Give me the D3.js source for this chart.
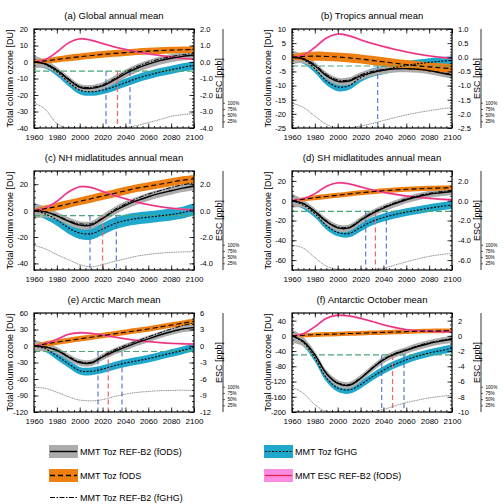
<!DOCTYPE html>
<html>
<head>
<meta charset="utf-8">
<script src="https://cdn.jsdelivr.net/npm/d3@7"></script>
<style>
  body { margin: 0; background: #fff; }
  svg { display: block; font-family: "Liberation Sans", Arial, Helvetica, sans-serif; }
</style>
</head>
<body>
<svg id="chart" width="504" height="504"></svg>
<script>
// ---- data ----
const years = [1960, 1970, 1980, 1990, 2000, 2010, 2020, 2030, 2040, 2050, 2060, 2070, 2080, 2090, 2100]

// (a) Global annual mean
const aRef = [0, -1.2, -5, -10.5, -15.3, -16, -14.5, -11, -7, -3.8, -1.3, 0.8, 2.3, 3.4, 4.2]
const aRefSd = [4, 2.5, 2, 2, 2, 2, 2.2, 2.5, 2.5, 2.5, 2.5, 2.5, 2.5, 2.5, 2.5]
const aRefGhg = [0, -1, -4.6, -10, -14.7, -15.4, -13.8, -10.2, -6, -2.8, -0.2, 1.8, 3.3, 4.4, 5.2]
const aFods = [0, 0.7, 1.5, 2.4, 3.2, 3.9, 4.6, 5.2, 5.7, 6.2, 6.6, 6.9, 7.2, 7.4, 7.6]
const aFodsSd = [1, 1.5, 1.8, 2, 2, 2, 2, 2, 2, 2, 2, 2, 2, 2, 2]
const aFghg = [0, -1.5, -6, -12, -17, -18, -17, -15, -12.5, -10, -8, -6.2, -4.7, -3.3, -2]
const aFghgSd = [2.5, 2.5, 2.5, 2.5, 2.5, 2.5, 2.5, 2.5, 2.5, 2.5, 2.5, 2.5, 2.5, 2.5, 2.5]
const aEsc = [0, 0.15, 0.6, 1.15, 1.4, 1.32, 1.12, 0.92, 0.76, 0.62, 0.5, 0.4, 0.3, 0.22, 0.16]
const aPct = [100, 75, 18, 1, 0, 0, 0, 1, 3, 10, 22, 34, 47, 54, 58]
const aLevel1980 = -5.5
const aReturnRange = [2023, 2044]
const aReturnMean = [2033]

// (b) Tropics annual mean
const bRef = [0, -0.6, -3, -6.5, -8.5, -8.4, -6.6, -5.4, -4.6, -4.1, -4, -4.2, -4.7, -5.5, -6.3]
const bRefSd = [2.5, 1.5, 1.3, 1.3, 1.3, 1.3, 1.3, 1.3, 1.3, 1.3, 1.3, 1.3, 1.3, 1.3, 1.3]
const bRefGhg = [0, -0.4, -2.6, -6, -8, -8, -6.2, -5, -4.3, -4, -4, -4.3, -4.8, -5.4, -6]
const bFods = [0, 0.3, 0.4, 0.3, 0.1, -0.2, -0.6, -1.1, -1.6, -2.1, -2.6, -3, -3.4, -3.7, -4]
const bFodsSd = [1, 1.5, 1.6, 1.6, 1.6, 1.6, 1.6, 1.6, 1.6, 1.6, 1.6, 1.6, 1.6, 1.6, 1.6]
const bFghg = [0, -0.8, -4, -8.3, -10.5, -10, -7.2, -5.5, -4.5, -3.6, -2.9, -2.3, -1.8, -1.4, -1.1]
const bFghgSd = [1.5, 1.5, 1.5, 1.5, 1.5, 1.5, 1.5, 1.5, 1.5, 1.5, 1.5, 1.5, 1.5, 1.5, 1.5]
const bEsc = [0, 0.08, 0.35, 0.68, 0.82, 0.76, 0.62, 0.49, 0.38, 0.28, 0.19, 0.11, 0.05, 0, -0.04]
const bPct = [100, 83, 48, 15, 2, 1, 8, 18, 30, 42, 53, 62, 70, 77, 83]
const bLevel1980 = -3.1
const bReturnRange = [2035]
const bReturnMean = []

// (c) NH midlatitudes annual mean
const cRef = [0, -1, -4, -8, -11, -11, -6, -0.5, 4, 7.5, 10.5, 13, 15, 17, 18.5]
const cRefSd = [6, 4, 3, 3, 3, 3, 3, 3, 3, 3, 3, 3, 3, 3, 3]
const cRefGhg = [0, -0.8, -3.5, -7.5, -10, -10, -5.5, 0.5, 5, 9, 12.5, 15, 17.5, 19.5, 21]
const cFods = [0, 1.5, 3, 5, 7, 9, 11, 13, 15, 17, 18.5, 20, 21.5, 23, 24]
const cFodsSd = [1, 2.5, 3, 3, 3, 3, 3, 3, 3, 3, 3, 3, 3, 3, 3]
const cFghg = [0, -2.5, -7, -13, -17, -17.5, -14, -10, -7.5, -6, -5, -4, -3, -1.5, 1]
const cFghgSd = [3, 4, 4.5, 4.5, 4.5, 4.5, 4.5, 4.5, 4.5, 4.5, 4.5, 4.5, 4.5, 4.5, 4.5]
const cEsc = [0, 0.2, 0.7, 1.4, 1.8, 1.75, 1.45, 1.15, 0.9, 0.65, 0.45, 0.3, 0.18, 0.1, 0.05]
const cPct = [100, 85, 62, 42, 22, 13, 22, 34, 45, 56, 63, 68, 71, 73, 74]
const cLevel1980 = -3.8
const cReturnRange = [2009, 2032]
const cReturnMean = [2020]

// (d) SH midlatitudes annual mean
const dRef = [0, -3, -11, -21, -27.5, -27.5, -20, -13, -7.5, -3, 1, 4, 6.5, 8, 9.3]
const dRefSd = [7, 4, 3.5, 3.5, 3.5, 3.5, 3.5, 3.5, 3.5, 3.5, 3.5, 3.5, 3.5, 3.5, 3.5]
const dRefGhg = [0, -2.7, -10.5, -20, -26.5, -26.5, -19, -12, -6.5, -2, 2, 5, 7.5, 9.2, 10.5]
const dFods = [0, 1.5, 3, 4.3, 5.5, 6.8, 8, 9, 10, 10.8, 11.5, 12, 12.5, 12.8, 13.2]
const dFodsSd = [1, 2, 2.5, 2.5, 2.5, 2.5, 2.5, 2.5, 2.5, 2.5, 2.5, 2.5, 2.5, 2.5, 2.5]
const dFghg = [0, -4.5, -13, -25, -32, -33, -27, -21, -17, -14, -11.5, -9.5, -7.5, -5.8, -4.3]
const dFghgSd = [3, 4, 4, 4, 4, 4, 4, 4, 4, 4, 4, 4, 4, 4, 4]
const dEsc = [0, 0.2, 0.7, 1.45, 1.8, 1.7, 1.4, 1.1, 0.85, 0.65, 0.48, 0.35, 0.25, 0.15, 0.1]
const dPct = [100, 88, 50, 16, 3, 0, 0, 1, 8, 20, 33, 45, 55, 62, 67]
const dLevel1980 = -10.8
const dReturnRange = [2024.5, 2042.5]
const dReturnMean = [2033]

// (e) Arctic March mean
const eRef = [0, -2, -8, -20, -30, -31, -20, -10, -2, 6, 13, 20, 26, 31, 33.5]
const eRefSd = [12, 7, 6, 6, 6, 6, 6, 6, 6, 6, 6, 6, 6, 6, 6]
const eRefGhg = [0, -1.5, -7, -18.5, -28.5, -29.5, -18, -7.5, 1, 9, 16.5, 24, 31, 37, 42]
const eFods = [0, 3.5, 7, 10, 13, 16, 19, 22, 25, 28, 31, 34.5, 38, 41.5, 45]
const eFodsSd = [2, 5, 5, 5, 5, 5, 5, 5, 5, 5, 5, 5, 5, 5, 5]
const eFghg = [0, -5, -18, -32, -45, -46, -42, -36, -31, -27, -23, -18, -13, -8, -2]
const eFghgSd = [5, 6, 7, 7, 7, 7, 7, 7, 7, 7, 7, 7, 7, 7, 7]
const eEsc = [0, 0.4, 1.2, 2.1, 2.4, 2.3, 2, 1.65, 1.3, 1, 0.8, 0.62, 0.48, 0.4, 0.35]
const ePct = [100, 95, 80, 62, 48, 45, 50, 62, 72, 79, 83, 86, 87, 88, 87]
const eLevel1980 = -10
const eReturnRange = [2016, 2037]
const eReturnMean = [2025]

// (f) Antarctic October mean
const fRef = [0, -15, -50, -99, -125, -130, -112, -86, -63, -48, -38, -28, -20, -14, -9]
const fRefSd = [18, 12, 9, 9, 9, 9, 9, 9, 9, 9, 9, 9, 9, 9, 9]
const fRefGhg = [0, -14, -49, -97, -123, -128, -110, -84, -61, -46, -36, -26, -18, -12, -7]
const fFods = [0, 1.5, 3, 4, 5, 6, 7, 8, 9, 10, 11, 12, 12.5, 13, 13.5]
const fFodsSd = [2, 5, 6, 6, 6, 6, 6, 6, 6, 6, 6, 6, 6, 6, 6]
const fFghg = [0, -18, -58, -110, -137, -142, -128, -108, -90, -75, -63, -53, -45, -39, -33]
const fFghgSd = [8, 10, 10, 10, 10, 10, 10, 10, 10, 10, 10, 10, 10, 10, 10]
const fEsc = [0, 0.3, 1.2, 2.3, 2.7, 2.6, 2.3, 1.9, 1.45, 1.1, 0.82, 0.68, 0.6, 0.55, 0.55]
const fPct = [100, 75, 30, 3, 0, 0, 0, 2, 10, 25, 38, 48, 57, 63, 68]
const fLevel1980 = -50
const fReturnRange = [2038.5, 2058]
const fReturnMean = [2048]

const pctTicks = [100, 75, 50, 25]

// panel table built from the arrays above
const panels = [
  { title: '(a) Global annual mean', du: [-40, 20], duStep: 10, duMinor: 2, ratio: 10, escStep: 1, escFmt: '.1f',
    ref: aRef, refSd: aRefSd, refGhg: aRefGhg, fods: aFods, fodsSd: aFodsSd, fghg: aFghg, fghgSd: aFghgSd,
    esc: aEsc, pct: aPct, level: aLevel1980, range: aReturnRange, mean: aReturnMean },
  { title: '(b) Tropics annual mean', du: [-25, 10], duStep: 5, duMinor: 1, ratio: 10, escStep: 0.5, escFmt: '.1f',
    ref: bRef, refSd: bRefSd, refGhg: bRefGhg, fods: bFods, fodsSd: bFodsSd, fghg: bFghg, fghgSd: bFghgSd,
    esc: bEsc, pct: bPct, level: bLevel1980, range: bReturnRange, mean: bReturnMean },
  { title: '(c) NH midlatitudes annual mean', du: [-45, 30], duStep: 20, duMinor: 5, ratio: 10, escStep: 2, escFmt: '.1f',
    ref: cRef, refSd: cRefSd, refGhg: cRefGhg, fods: cFods, fodsSd: cFodsSd, fghg: cFghg, fghgSd: cFghgSd,
    esc: cEsc, pct: cPct, level: cLevel1980, range: cReturnRange, mean: cReturnMean },
  { title: '(d) SH midlatitudes annual mean', du: [-70, 30], duStep: 20, duMinor: 5, ratio: 10, escStep: 2, escFmt: '.1f',
    ref: dRef, refSd: dRefSd, refGhg: dRefGhg, fods: dFods, fodsSd: dFodsSd, fghg: dFghg, fghgSd: dFghgSd,
    esc: dEsc, pct: dPct, level: dLevel1980, range: dReturnRange, mean: dReturnMean },
  { title: '(e) Arctic March mean', du: [-120, 60], duStep: 30, duMinor: 10, ratio: 10, escStep: 3, escFmt: 'd',
    ref: eRef, refSd: eRefSd, refGhg: eRefGhg, fods: eFods, fodsSd: eFodsSd, fghg: eFghg, fghgSd: eFghgSd,
    esc: eEsc, pct: ePct, level: eLevel1980, range: eReturnRange, mean: eReturnMean },
  { title: '(f) Antarctic October mean', du: [-200, 60], duStep: 40, duMinor: 10, ratio: 20, escStep: 2, escFmt: 'd',
    ref: fRef, refSd: fRefSd, refGhg: fRefGhg, fods: fFods, fodsSd: fFodsSd, fghg: fFghg, fghgSd: fFghgSd,
    esc: fEsc, pct: fPct, level: fLevel1980, range: fReturnRange, mean: fReturnMean },
]

// ---- layout ----
const W = 160, H = 99
const colX = [34, 292]
const rowY = [29, 171, 313]
const col = {
  gray: '#acacac', cyan: '#1fa8cc', orange: '#ee7f12', pink: '#f864c4', red: '#e31e45',
  green: '#4aa878', blue: '#4d6fc0', redDash: '#ef6a6a'
}
const hyphen = (f) => (v) => f(v).replace('\u2212', '-')

const svg = d3.select('#chart')
svg.append('rect').attr('width', 504).attr('height', 504).attr('fill', '#fff')

const x = d3.scaleLinear().domain([1960, 2100]).range([0, W])

panels.forEach((p, i) => {
  const g = svg.append('g')
    .attr('transform', `translate(${colX[i % 2]},${rowY[Math.floor(i / 2)]})`)

  const y = d3.scaleLinear().domain(p.du).range([H, 0])
  const yEsc = d3.scaleLinear().domain([p.du[0] / p.ratio, p.du[1] / p.ratio]).range([H, 0])
  const yPct = d3.scaleLinear().domain([0, 100]).range([H, H * 0.75])

  const clipId = 'clip' + i
  g.append('clipPath').attr('id', clipId)
    .append('rect').attr('width', W).attr('height', H)
  const plot = g.append('g').attr('clip-path', `url(#${clipId})`)

  const band = (mean, sd) => d3.area()
    .x((d, k) => x(years[k]))
    .y0((d, k) => y(mean[k] - sd[k]))
    .y1((d, k) => y(mean[k] + sd[k]))
    .curve(d3.curveCatmullRom)(mean)
  const line = (vals, sc) => d3.line()
    .x((d, k) => x(years[k]))
    .y((d) => sc(d))
    .curve(d3.curveCatmullRom)(vals)

  // uncertainty bands
  plot.append('path').attr('d', band(p.fghg, p.fghgSd)).attr('fill', col.cyan)
  plot.append('path').attr('d', band(p.ref, p.refSd)).attr('fill', col.gray)
  plot.append('path').attr('d', band(p.fods, p.fodsSd)).attr('fill', col.orange)

  // ESC (right axis)
  plot.append('path').attr('d', line(p.esc, yEsc))
    .attr('fill', 'none').attr('stroke', col.pink).attr('stroke-width', 1.9)
  plot.append('path').attr('d', line(p.esc, yEsc))
    .attr('fill', 'none').attr('stroke', col.red).attr('stroke-width', 0.8)

  // 1980 level and return dates
  plot.append('line')
    .attr('x1', x(1960)).attr('x2', x(2100))
    .attr('y1', y(p.level)).attr('y2', y(p.level))
    .attr('stroke', col.green).attr('stroke-width', 1.1).attr('stroke-dasharray', '6,3')
  p.range.forEach((yr) => {
    plot.append('line')
      .attr('x1', x(yr)).attr('x2', x(yr)).attr('y1', y(p.level)).attr('y2', H)
      .attr('stroke', col.blue).attr('stroke-width', 1.1).attr('stroke-dasharray', '5,3')
  })
  p.mean.forEach((yr) => {
    plot.append('line')
      .attr('x1', x(yr)).attr('x2', x(yr)).attr('y1', y(p.level)).attr('y2', H)
      .attr('stroke', col.redDash).attr('stroke-width', 1.3).attr('stroke-dasharray', '5,3')
  })

  // mean lines
  plot.append('path').attr('d', line(p.fghg, y)).attr('fill', 'none')
    .attr('stroke', '#000').attr('stroke-width', 1.1).attr('stroke-dasharray', '2,1.5')
  plot.append('path').attr('d', line(p.fods, y)).attr('fill', 'none')
    .attr('stroke', '#000').attr('stroke-width', 1.1).attr('stroke-dasharray', '5,3')
  plot.append('path').attr('d', line(p.refGhg, y)).attr('fill', 'none')
    .attr('stroke', '#000').attr('stroke-width', 1).attr('stroke-dasharray', '5,1.5,1.5,1.5')
  plot.append('path').attr('d', line(p.ref, y)).attr('fill', 'none')
    .attr('stroke', '#000').attr('stroke-width', 1.4)

  // percentage curve
  plot.append('path')
    .attr('d', d3.line().x((d, k) => x(years[k])).y((d) => yPct(d)).curve(d3.curveMonotoneX)(p.pct))
    .attr('fill', 'none').attr('stroke', '#444').attr('stroke-width', 0.6).attr('stroke-dasharray', '1.2,0.6')

  // axes (NCL style, inward ticks on all sides)
  const duTicks = d3.range(Math.ceil(p.du[0] / p.duStep) * p.duStep, p.du[1] + 0.001, p.duStep)
  const duMinor = d3.range(Math.ceil(p.du[0] / p.duMinor) * p.duMinor, p.du[1] + 0.001, p.duMinor)
  const escTicksAll = d3.range(Math.ceil(p.du[0] / p.ratio / p.escStep) * p.escStep, p.du[1] / p.ratio + 0.001, p.escStep)
  const xMajor = d3.range(1960, 2101, 20)
  const xMinor = d3.range(1960, 2101, 5)

  const axStyle = (sel) => {
    sel.select('.domain').remove()
    sel.selectAll('line').attr('stroke', '#000').attr('stroke-width', 0.8)
    sel.selectAll('text').attr('fill', '#000').attr('font-size', '7.5px')
  }

  g.append('g').call(d3.axisLeft(y).tickValues(duMinor).tickSize(-2).tickFormat('')).call(axStyle)
  g.append('g').call(d3.axisLeft(y).tickValues(duTicks).tickSize(-4.5).tickPadding(6)
    .tickFormat(hyphen(d3.format('d')))).call(axStyle)
  g.append('g').attr('transform', `translate(${W},0)`)
    .call(d3.axisRight(y).tickValues(duMinor).tickSize(-2).tickFormat('')).call(axStyle)
  g.append('g').attr('transform', `translate(${W},0)`)
    .call(d3.axisRight(yEsc).tickValues(escTicksAll).tickSize(-4.5).tickPadding(6)
      .tickFormat(hyphen(d3.format(p.escFmt)))).call(axStyle)

  g.append('g').attr('transform', `translate(0,${H})`)
    .call(d3.axisBottom(x).tickValues(xMinor).tickSize(-2).tickFormat('')).call(axStyle)
  g.append('g').attr('transform', `translate(0,${H})`)
    .call(d3.axisBottom(x).tickValues(xMajor).tickSize(-4.5).tickPadding(6).tickFormat(d3.format('d')))
    .call(axStyle)
    .call((s) => s.selectAll('text').attr('font-size', '8px'))
  g.append('g').call(d3.axisTop(x).tickValues(xMinor).tickSize(-2).tickFormat('')).call(axStyle)
  g.append('g').call(d3.axisTop(x).tickValues(xMajor).tickSize(-4.5).tickFormat('')).call(axStyle)

  g.append('rect').attr('width', W).attr('height', H)
    .attr('fill', 'none').attr('stroke', '#000').attr('stroke-width', 1.2)

  // percentage axis
  const pctAxis = g.append('g').attr('transform', `translate(${W + 29},0)`)
  pctAxis.append('line').attr('y1', 0).attr('y2', H).attr('stroke', '#000').attr('stroke-width', 0.8)
  pctAxis.selectAll('.pt').data(pctTicks).join('line')
    .attr('x1', 0).attr('x2', 2).attr('y1', (d) => yPct(d)).attr('y2', (d) => yPct(d))
    .attr('stroke', '#000').attr('stroke-width', 0.6)
  pctAxis.selectAll('text').data(pctTicks).join('text')
    .attr('x', 4.5).attr('y', (d) => yPct(d)).attr('dy', '0.35em')
    .attr('font-size', '4.6px').text((d) => d + '%')

  // titles
  g.append('text').attr('x', W / 2).attr('y', -10.5).attr('text-anchor', 'middle')
    .attr('font-size', '9.5px').text(p.title)
  g.append('text').attr('transform', `translate(-21,${H / 2}) rotate(-90)`)
    .attr('text-anchor', 'middle').attr('font-size', '9px').text('Total column ozone [DU]')
  g.append('text').attr('transform', `translate(${W + 28},${H / 2}) rotate(-90)`)
    .attr('text-anchor', 'middle').attr('font-size', '9px').text('ESC [ppb]')
})

// ---- legend ----
const legend = svg.append('g').attr('id', 'legend')
const legendItems = [
  { x: 49, y: 445, fill: col.gray, stroke: '#000', dash: null, sw: 1.4, label: 'MMT Toz REF-B2 (fODS)' },
  { x: 264, y: 445, fill: col.cyan, stroke: '#000', dash: '2,1.5', sw: 1.2, label: 'MMT Toz fGHG' },
  { x: 49, y: 469, fill: col.orange, stroke: '#000', dash: '5,3', sw: 1.3, label: 'MMT Toz fODS' },
  { x: 264, y: 469, fill: '#f98be0', stroke: col.red, dash: null, sw: 1.2, label: 'MMT ESC REF-B2 (fODS)' },
  { x: 49, y: 491, fill: null, stroke: '#000', dash: '5,1.5,1.5,1.5', sw: 1.1, label: 'MMT Toz REF-B2 (fGHG)' },
]
legendItems.forEach((d) => {
  if (d.fill) {
    legend.append('rect').attr('x', d.x).attr('y', d.y).attr('width', 29).attr('height', 13).attr('fill', d.fill)
  }
  legend.append('line').attr('x1', d.x + 1).attr('x2', d.x + 28).attr('y1', d.y + 6.5).attr('y2', d.y + 6.5)
    .attr('stroke', d.stroke).attr('stroke-width', d.sw).attr('stroke-dasharray', d.dash)
  legend.append('text').attr('x', d.x + 31).attr('y', d.y + 10).attr('font-size', '9px').text(d.label)
})
</script>
</body>
</html>
